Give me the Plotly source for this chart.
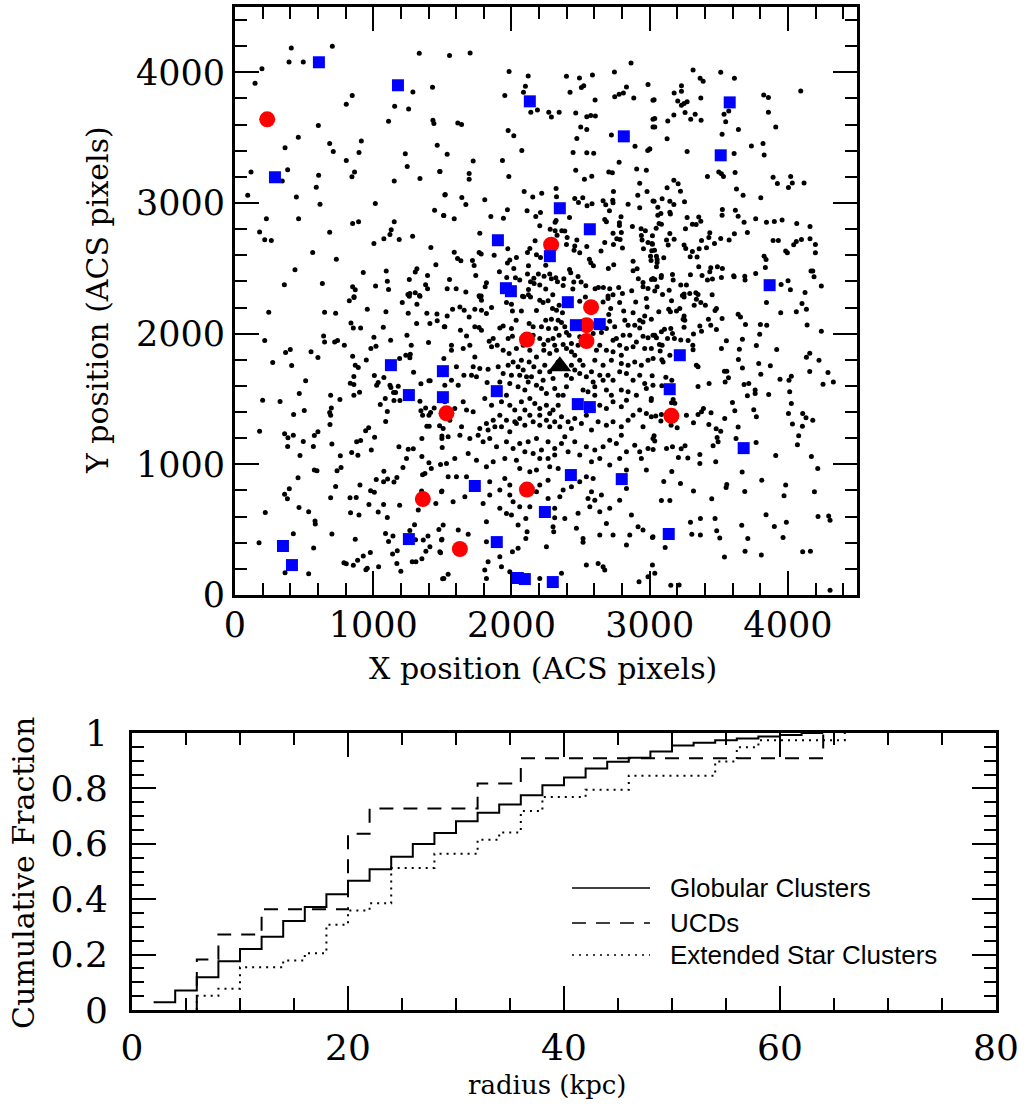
import plotly.graph_objects as go

# ---------------- top panel data (ACS pixel positions) ----------------
# Globular clusters (small black dots), read region by region from the picture
gc_nw = [407,4186, 704,4199, 391,4079, 494,4079, 195,4028, 1333,4146, 145,3916, 848,3822, 805,3756,
         1155,3740, 1256,3720, 1287,3850, 1429,3886, 1111,3626, 1432,3633, 1439,3608, 603,3593, 458,3503,
         362,3422, 685,3455, 711,3394, 914,3475, 897,3386, 1463,3442, 1232,3376, 805,3325, 1246,3279,
         116,3238, 381,3254, 342,3169, 605,3213, 865,3238, 846,3200, 1152,3169, 1338,3187, 1482,3241,
         92,3060, 444,3045, 588,3121, 615,2991, 1015,2996, 1518,3062, 1444,2945, 1509,2904, 227,2879,
         460,2879, 894,2856, 851,2843, 1152,2856, 1130,2795, 1121,2759, 1077,2726, 1188,2721, 1285,2746,
         178,2779, 215,2718, 263,2713, 685,2777, 1005,2690, 1417,2660, 562,2621, 733,2570, 1453,2527,
         434,2489, 928,2468, 1094,2479, 1102,2402, 1111,2338, 357,2374, 632,2384, 851,2359, 870,2336,
         861,2282, 1017,2364, 1261,2415, 1304,2471, 1316,2496, 1393,2445, 1379,2374, 1393,2344, 1251,2300,
         1304,2313, 1335,2293, 1265,2308]
gc_n = [1552,4128, 1701,4148, 1983,4006, 2121,3972, 2101,3893, 2087,3847, 1952,3822, 2865,4072, 2398,3970,
        2492,3957, 2586,3980, 2745,4003, 2523,3898, 2506,3883, 2424,3847, 2605,3789, 2747,3814, 2779,3832,
        2810,3842, 2832,3888, 2885,3804, 2988,3906, 3024,3786, 2188,3712, 2140,3695, 2270,3695, 2289,3659,
        2345,3695, 2465,3689, 2545,3661, 2574,3669, 2607,3666, 1612,3613, 1639,3600, 1976,3554, 2017,3514,
        2501,3582, 2545,3562, 2473,3493, 2723,3521, 2894,3435, 2986,3401, 3000,3414, 3024,3641, 3024,3582,
        1535,3373, 1723,3322, 1935,3325, 2075,3401, 2446,3386, 2545,3384, 2595,3381, 2779,3312, 1482,3241,
        1694,3226, 1694,3182, 1981,3203, 2465,3251, 2528,3182, 2581,3205, 2704,3238, 2730,3231, 2906,3261,
        2976,3251, 2928,3152, 2981,3088, 3024,3016, 1521,3065, 1641,3042, 1670,2989, 1807,3024, 2092,3088,
        2154,3045, 2219,3075, 2323,3111, 2326,3047, 2458,3034, 2485,3004, 2516,3040, 2547,2978, 2583,2994,
        2663,3017, 2682,2986, 2733,3022, 2738,3088, 2735,3001, 2709,2940, 2793,2894, 2844,2991, 2914,3060,
        2928,2963, 1511,2904, 1586,2879, 1851,2897, 1942,2884, 1971,2948, 2113,2940, 2176,2897, 2210,2927,
        2205,2825, 2323,2866, 2316,2853, 2420,2889, 2675,2874, 2687,2856, 2781,2848, 2781,2828, 2795,2774,
        2735,2769, 2762,2726, 2786,2721, 2875,2820, 2938,2802, 2969,2787, 2940,2751, 2945,2716, 2988,2698,
        3017,2690, 2955,2650, 3015,2634, 3010,2560, 1771,2769, 1974,2650, 2280,2800, 2316,2787, 2364,2787,
        2386,2785, 2403,2736, 2330,2754, 2398,2683, 2473,2716, 2545,2667, 2458,2670, 2453,2639, 2494,2619,
        2648,2632, 2675,2698, 2738,2683, 2803,2655, 2171,2711, 2133,2652, 2116,2621, 2181,2604, 2210,2583,
        2036,2583, 1988,2563, 1971,2540, 1875,2601, 1766,2621, 1781,2609, 1586,2624, 1610,2576, 1634,2558,
        1718,2560, 1730,2522, 1913,2474, 2017,2499, 2123,2519, 2248,2524, 2564,2570, 2574,2542, 2593,2519,
        2701,2499, 2740,2527, 2880,2555, 2880,2481, 2909,2497, 2918,2420, 2952,2392, 3024,2423, 1742,2446,
        1552,2415, 1535,2344, 1600,2344, 1670,2318, 1766,2290, 1810,2359, 1819,2390, 1966,2430, 2029,2428,
        2060,2410, 2116,2456, 2138,2397, 2162,2425, 2195,2456, 2236,2440, 2277,2456, 2289,2420, 2321,2428,
        2333,2397, 2379,2420, 2420,2492, 2429,2466, 2482,2438, 2451,2395, 2504,2395, 2123,2338, 2164,2384,
        2205,2372, 2248,2341, 2299,2298, 2374,2369, 2444,2341, 2538,2367, 2605,2344, 2629,2354, 2665,2354,
        2711,2344, 2699,2288, 2735,2298, 2776,2354, 2803,2308, 2870,2328, 2952,2359, 2988,2346, 2123,2298,
        2089,2282, 1781,2288]
gc_ne = [3314,4018, 3514,4000, 3613,3955, 3365,3955, 3387,3932, 3230,3898, 3230,3855, 3177,3842, 3032,3791,
         3370,3804, 3203,3781, 3271,3774, 3249,3761, 3230,3748, 3175,3674, 3256,3692, 3329,3679, 3037,3646,
         3297,3641, 3372,3633, 3131,3628, 3037,3582, 3572,3705, 3538,3679, 3550,3621, 3825,3827, 3859,3807,
         3859,3695, 4093,3858, 3912,3582, 3642,3562, 3524,3526, 3126,3491, 3001,3414, 3271,3394, 3611,3379,
         3736,3437, 3820,3455, 3828,3368, 3418,3203, 3500,3238, 3519,3223, 3534,3203, 3618,3233, 3893,3197,
         3924,3149, 4020,3203, 4032,3154, 4004,3118, 4117,3154, 3175,3175, 3206,3147, 3223,3090, 3126,3116,
         3628,3108, 3676,3060, 3804,3040, 3090,3032, 3032,3014, 3146,3014, 3252,3009, 3059,2968, 3175,2989,
         3146,2930, 3150,2915, 3081,2920, 3059,2907, 3068,2843, 3085,2838, 3047,2807, 3259,2802, 3271,2889,
         3355,2892, 3370,2861, 3309,2838, 3336,2836, 3526,2950, 3524,2907, 3620,2945, 3640,2899, 3683,2853,
         3767,2879, 3845,2853, 3902,2858, 3958,2869, 4064,2843, 4160,2820, 3707,2774, 3613,2764, 3514,2728,
         3575,2716, 3435,2772, 3428,2736, 3375,2713, 3469,2690, 3411,2657, 3358,2650, 3309,2629, 3343,2586,
         3293,2588, 3146,2767, 3122,2716, 3177,2723, 3134,2678, 3020,2749, 3020,2685, 3249,2678, 3261,2652,
         3035,2639, 3049,2593, 3006,2593, 3054,2568, 3054,2545, 3049,2512, 3102,2581, 3893,2713, 3931,2713,
         4042,2680, 4061,2706, 4098,2721, 4160,2726, 4199,2683, 4199,2619, 3984,2632, 3996,2619, 3828,2593,
         3842,2568, 3837,2507, 3767,2461, 3355,2512, 3442,2504, 3490,2512, 3526,2499, 3435,2474, 3295,2451,
         3379,2446, 3454,2418, 3519,2430, 3608,2443, 3611,2435, 3688,2440, 3690,2410, 3418,2410, 3165,2453,
         3170,2410, 3085,2446, 3083,2430, 3013,2415, 3037,2415, 3225,2372, 3266,2372, 3249,2303, 3290,2308,
         3334,2313, 3350,2300, 3452,2298, 3054,2359, 3037,2326, 3093,2300, 3141,2333, 3237,2293, 3951,2377,
         4001,2405, 4018,2336, 4124,2316, 4167,2479, 4180,2479, 4189,2435, 4242,2364]
gc_sw = [827,2251, 861,2276, 244,2164, 648,2164, 728,2156, 957,2187, 1092,2167, 1210,2238, 1261,2286,
         1316,2225, 1338,2286, 1253,2156, 1314,2077, 1388,2156, 1461,2151, 1463,2098, 1410,2077, 1514,2052,
         839,2082, 856,2044, 909,2044, 1073,2049, 215,1947, 641,1983, 648,1937, 721,1937, 742,1947,
         791,1912, 1005,1973, 1020,1904, 983,1886, 1126,1950, 1244,1988, 1275,1912, 1400,1932, 366,1856,
         400,1879, 550,1861, 600,1817, 273,1779, 410,1756, 511,1639, 851,1828, 870,1759, 892,1741,
         950,1799, 1008,1680, 1036,1626, 1077,1664, 1025,1606, 860,1672, 834,1621, 860,1611, 901,1552,
         860,1529, 759,1496, 692,1529, 697,1432, 685,1397, 692,1376, 687,1305, 200,1491, 326,1481,
         465,1542, 501,1412, 424,1381, 178,1254, 359,1234, 383,1203, 422,1223, 381,1137, 494,1175,
         470,1068, 567,1137, 574,1221, 600,1249, 701,1155, 762,1065, 767,975, 738,951, 574,956, 593,951,
         456,897, 728,831, 393,813, 359,772, 379,737, 692,744, 463,670, 533,637, 219,632, 579,566,
         581,543, 422,469, 701,466, 569,359, 174,400, 362,171, 533,163, 870,426, 788,247, 805,240,
         856,227, 887,265, 928,298, 979,326, 947,194, 957,204, 1039,217, 832,744, 877,747, 836,630,
         897,612, 904,841, 981,798, 1008,787, 969,693, 1036,635, 1075,693, 1102,594, 1077,948, 1075,867,
         1022,884, 1150,864, 1171,900, 1215,976, 1191,686, 1104,887, 1089,471, 1111,410, 1143,451,
         1174,339, 1140,313, 1171,242, 1200,181, 1282,255, 1309,255, 1352,278, 1381,334, 1410,370,
         1396,451, 1362,420, 1306,423, 1299,538, 1265,494, 1475,502, 1497,426, 1487,324, 1502,125,
         1350,795, 1326,650, 1453,701, 1497,795, 1374,930, 1357,920, 1420,969, 1403,1012, 1352,1060,
         1487,999, 1290,1119, 1253,1116, 1186,1134, 1241,1045, 1352,1198, 1388,1292, 1405,1292, 1480,1295,
         1497,1216, 1497,1198, 1499,1129, 1357,1376, 1345,1410, 1403,1376, 1415,1397, 1379,1432, 1441,1432,
         1338,1483, 1193,1489, 1150,1489, 1162,1550, 1087,1504, 1051,1458, 1102,1404, 1090,1328, 1181,1598,
         1121,1606, 1128,1588, 1147,1550, 1345,1616, 1403,1639, 1412,1639, 1292,1705, 1265,1815, 1236,1835,
         1268,1843, 1191,1810, 945,1257, 967,1280, 1010,1208, 880,1172, 909,1183, 844,1091, 889,1070,
         986,1109]
gc_core = [1771,2281, 1783,2256, 1964,2238, 2000,2225, 2080,2286, 2138,2281, 2205,2256, 2229,2238, 2265,2251,
           2297,2192, 2326,2179, 2345,2218, 2369,2161, 2181,2177, 2072,2174, 2007,2174, 1856,2200, 1819,2154,
           1783,2179, 1735,2187, 1694,2128, 1627,2205, 1658,2179, 1574,2187, 1535,2136, 2699,2269, 2718,2192,
           2704,2146, 2783,2238, 2812,2174, 2880,2161, 2899,2243, 2976,2269, 2981,2205, 2964,2136, 2928,2103,
           3012,2110, 2494,2248, 2535,2281, 2663,2243, 1518,2052, 1631,2026, 1675,1983, 1735,2052, 1766,2047,
           1783,2026, 1839,1942, 1868,1963, 1897,1912, 1916,2044, 1940,2059, 1976,1963, 2007,1980, 2000,2039,
           2034,2103, 2128,2077, 2157,2052, 2157,1988, 2205,1963, 2217,2052, 2248,2103, 2268,2039, 2289,2110,
           2321,2039, 2338,2103, 2362,2085, 2386,2052, 2398,2009, 2417,1988, 2345,1988, 2301,1963, 2265,1950,
           2234,1917, 2313,1912, 2374,1917, 2434,1924, 2234,1873, 2277,1848, 2326,1873, 2398,1886, 2434,1861,
           2458,1835, 2482,1912, 2530,1912, 2494,1976, 2591,2001, 2651,2009, 2687,2039, 2711,2095, 2747,2052,
           2759,1963, 2820,2103, 2844,2065, 2892,2065, 2928,2044, 2952,2090, 2952,1980, 2988,1968, 3024,1988,
           2856,1988, 2808,1988, 2735,1950, 2783,1912, 2832,1886, 2880,1899, 2904,1937, 2964,1886, 3012,1886,
           2639,1912, 2615,1873, 2687,1873, 2735,1861, 2795,1835, 2036,1886, 2085,1912, 2133,1873, 1566,1912,
           1566,1873, 1651,1886, 1699,1912, 1856,1899, 1735,1822, 1511,1810, 1940,1873, 1983,1848, 2012,1784,
           2072,1797, 2048,1746, 2085,1721, 2128,1784, 2162,1746, 2181,1822, 2205,1708, 2241,1759, 2277,1708,
           2301,1657, 2229,1644, 2145,1670, 2109,1670, 2060,1682, 2000,1682, 1976,1759, 1940,1695, 1904,1746,
           1831,1728, 1771,1733, 1723,1746, 1711,1682, 1747,1670, 1656,1682, 1615,1606, 1566,1644, 1518,1606,
           1602,1746, 1824,1626, 1916,1631, 1988,1619, 2048,1593, 2097,1568, 2121,1631, 2181,1606, 2217,1580,
           2253,1542, 2313,1580, 2338,1529, 2374,1529, 2398,1593, 2434,1657, 2398,1682, 2458,1721, 2494,1695,
           2518,1759, 2542,1670, 2579,1708, 2591,1631, 2639,1682, 2663,1644, 2699,1682, 2735,1644, 2783,1708,
           2832,1695, 2880,1644, 2928,1682, 2964,1619, 3024,1606, 2988,1797, 2940,1759, 2892,1784, 2844,1759,
           2795,1771, 2723,1797, 2663,1759, 2603,1797, 2494,1797, 2338,1784, 2434,1759, 2603,1593, 2554,1555,
           2603,1529, 2518,1568, 2687,1568, 2723,1529, 2795,1568, 2844,1555, 2904,1529, 2976,1580, 3012,1504,
           1518,1478, 1590,1427, 1651,1478, 1675,1415, 1723,1402, 1639,1287, 1807,1504, 1856,1453, 1928,1478,
           1964,1529, 1988,1453, 2024,1415, 2072,1478, 2133,1504, 2169,1466, 2205,1427, 2253,1453, 2301,1415,
           2338,1453, 2277,1389, 2205,1376, 2133,1376, 2097,1415, 2060,1351, 2024,1325, 1964,1338, 1916,1376,
           1868,1338, 1819,1313, 1771,1274, 1831,1262, 1880,1287, 1928,1287, 1988,1249, 2036,1313, 2097,1300,
           2157,1325, 2205,1300, 2253,1338, 2313,1325, 2362,1364, 2410,1325, 2458,1351, 2506,1313, 2542,1376,
           2591,1415, 2639,1453, 2687,1427, 2735,1478, 2795,1440, 2832,1491, 2880,1376, 2928,1415, 2976,1389,
           3012,1364, 2627,1325, 2687,1300, 2735,1325, 2795,1287, 2844,1338, 2952,1287, 2579,1262, 2434,1274,
           2350,1287, 2277,1287, 1554,1338, 1506,1274, 1542,1211, 1627,1223, 1699,1198, 1759,1223, 1795,1172,
           1843,1198, 1892,1134, 1964,1172, 2012,1122, 2060,1160, 2121,1172, 2181,1198, 2217,1109, 2265,1172,
           2313,1122, 2362,1160, 2386,1211, 2410,1096, 2458,1172, 2494,1071, 2542,1134, 2603,1109, 2663,1134,
           2711,1185, 2759,1160, 2795,1223, 2832,1096, 2892,1147, 2928,1096, 2988,1122, 3024,1198, 2639,1045,
           2579,1020, 2711,994, 2783,1045, 2832,956, 2940,1045, 2976,956, 2313,1071, 2265,1045, 2205,1045,
           2157,1083, 2097,1096, 2036,1032, 1952,1045, 1868,1020, 1819,981, 1747,1032, 1687,1083, 1590,1045,
           1530,1007, 2060,969, 2133,943, 2181,956, 2277,981, 2338,969, 1542,905, 1602,905, 1675,905,
           1494,790, 1578,714, 1663,752, 1795,701, 1843,765, 1843,867, 1916,803, 1952,892, 1988,841,
           1988,765, 2012,714, 2060,676, 1916,663, 1964,624, 2000,612, 2133,676, 2181,790, 2205,841,
           2265,879, 2265,739, 2350,752, 2313,663, 2313,591, 2386,586, 2374,803, 2434,828, 2494,867,
           2542,905, 2591,892, 2579,790, 2554,739, 2603,726, 2651,765, 2567,676, 2639,637, 2711,663,
           2783,726, 2832,816, 2868,612, 2482,625, 2470,510, 2687,548, 2518,433, 2518,403, 2639,459,
           2735,459, 2856,459, 2916,522, 2952,497, 3024,446, 2832,382, 2627,242, 2663,217, 2675,191,
           2542,229, 2923,102, 2988,140, 1506,535, 1615,497, 1687,464, 1494,420, 1482,331, 1511,127,
           1542,158, 1819,561, 1819,408, 1916,293, 1831,255, 1819,127, 1807,191, 1928,217, 1988,178,
           2007,331, 2048,357, 2048,535, 2104,433, 2113,484, 2104,586, 2253,370, 2301,523, 2306,484,
           2205,127, 2362,166]
gc_se = [3158,2251, 3249,2281, 3338,2263, 3370,2238, 3403,2218, 3322,2218, 3218,2192, 3194,2174, 3138,2187,
         3066,2167, 3150,2167, 3249,2136, 3242,2110, 3254,2103, 3249,2049, 3425,2110, 3483,2192, 3473,2177,
         3524,2116, 3442,2065, 3483,2031, 3363,2059, 3375,2019, 3317,1998, 3278,1947, 3312,1912, 3314,1876,
         3225,1952, 3179,1963, 3129,1963, 3165,2001, 3153,2039, 3107,2034, 3085,2014, 3037,1988, 3049,1968,
         3071,1917, 3090,1912, 3076,1868, 3146,1835, 3088,1800, 3097,1784, 3025,1810, 3640,2149, 3657,2128,
         3693,2070, 3845,2238, 3948,2161, 4061,2167, 4102,2230, 4134,2187, 3801,2070, 3847,2065, 3796,1996,
         3671,1958, 3555,1945, 3519,1886, 3649,1881, 3772,1909, 3919,1878, 4139,2067, 4242,2019, 4134,1820,
         4158,1850, 4225,1797, 3642,1802, 3671,1738, 3789,1771, 3804,1690, 3873,1754, 4158,1710, 4290,1703,
         4254,1613, 4329,1631, 4025,1675, 4008,1644, 3943,1652, 3338,1759, 3350,1746, 3541,1713, 3558,1713,
         3570,1662, 3546,1631, 3430,1619, 3350,1596, 3683,1611, 3717,1619, 3707,1524, 3763,1568, 3763,1542,
         3861,1534, 4013,1555, 4025,1466, 3599,1473, 3616,1410, 3753,1417, 3772,1364, 3389,1427, 3375,1402,
         3350,1381, 3444,1394, 3317,1318, 3266,1376, 3428,1305, 3481,1272, 3514,1254, 3543,1351, 3640,1285,
         3488,1206, 3495,1172, 3459,1142, 3625,1198, 3770,1167, 4004,1389, 4033,1308, 4107,1389, 4131,1356,
         4180,1338, 4105,1292, 4078,1218, 4069,1150, 3085,1381, 3044,1369, 3081,1331, 3199,1280, 3155,1300,
         3158,1471, 3182,1468, 3170,1496, 3011,1489, 3117,1667, 3160,1644, 3088,1601, 3018,1677, 3032,1218,
         3037,1178, 3025,1114, 3122,1122, 3165,1134, 3228,1119, 3256,1142, 3208,1053, 3276,1048, 3363,1076,
         3363,1007, 3478,1020, 3160,946, 3102,869, 3223,854, 3317,795, 3449,737, 3558,846, 3553,823,
         3688,793, 3669,941, 3811,879, 3912,1068, 4170,1060, 4216,969, 3984,841, 3972,760, 4192,790,
         3085,724, 3146,724, 3295,556, 3367,586, 3305,464, 3367,459, 3473,586, 3485,492, 3507,436,
         3666,533, 3710,433, 3842,614, 3902,525, 3989,556, 3965,441, 4218,601, 4295,604, 4305,573,
         4107,331, 4163,334, 3690,334, 3808,306, 3541,290, 3112,364, 3020,441, 3020,229, 3037,166,
         3153,74, 3213,76, 4305,36]

# Extended star clusters (blue squares)
esc_x = [607, 1179, 2133, 2813, 3579, 3514, 289, 2350, 2567, 1902, 2278, 1960, 1996, 2408, 3868, 2466, 2639,
         3218, 1128, 1504, 1258, 1504, 1894, 3145, 2480, 2567, 3680, 1735, 2430, 2798, 2242, 3138, 347, 412,
         1258, 1894, 2046, 2097, 2299]
esc_y = [4077, 3901, 3778, 3510, 3770, 3365, 3197, 2960, 2799, 2715, 2593, 2348, 2325, 2241, 2371, 2065, 2073,
         1835, 1759, 1713, 1530, 1514, 1560, 1575, 1461, 1438, 1124, 834, 918, 887, 635, 467, 375, 229,
         428, 405, 130, 122, 99]

# UCDs (red circles)
ucd_x = [233, 2287, 2576, 2543, 2543, 2112, 1530, 2112, 1627, 1359, 3157]
ucd_y = [3640, 2681, 2203, 2065, 1943, 1955, 1390, 807, 352, 734, 1371]

# galaxy centre (black triangle)
centre_x = [2350]
centre_y = [1751]

# ---------------- bottom panel data ----------------
gc_r = [2, 4, 6, 8, 10, 12, 14, 16, 18, 20, 22, 24, 26, 28, 30, 32, 34, 36, 38, 40, 42, 44, 46, 48, 50,
        52, 54, 56, 58, 60, 62, 64]
gc_frac = [0.028, 0.070, 0.118, 0.176, 0.220, 0.264, 0.321, 0.372, 0.418, 0.467, 0.508, 0.553, 0.599,
           0.639, 0.681, 0.712, 0.742, 0.775, 0.811, 0.839, 0.872, 0.896, 0.911, 0.933, 0.955, 0.965,
           0.974, 0.980, 0.987, 0.993, 1.0, 1.0]
ucd_r = [6, 6, 8, 12, 20, 22, 32, 36, 64]
ucd_frac = [0.0, 0.182, 0.273, 0.364, 0.636, 0.727, 0.818, 0.909, 1.0]
esc_r = [6, 6, 8, 10, 14, 16, 18, 20, 22, 24, 28, 32, 34, 36, 38, 42, 46, 54, 56, 58, 66]
esc_frac = [0.0, 0.051, 0.077, 0.154, 0.179, 0.205, 0.308, 0.359, 0.385, 0.513, 0.564, 0.615, 0.641,
            0.718, 0.769, 0.795, 0.846, 0.897, 0.949, 0.974, 1.0]

legend_labels = ["Globular Clusters", "UCDs", "Extended Star Clusters"]

# ---------------- figure ----------------
W, H = 1027, 1110
SERIF = "DejaVu Serif"
SANS = "Liberation Sans"

gx, gy = [], []
for arr in (gc_nw, gc_n, gc_ne, gc_sw, gc_core, gc_se):
    gx += arr[0::2]
    gy += arr[1::2]

fig = go.Figure()
fig.add_trace(go.Scatter(x=gx, y=gy, mode="markers", xaxis="x", yaxis="y",
                         marker=dict(color="black", size=5, line=dict(width=0)),
                         name="Globular Clusters", showlegend=False))
fig.add_trace(go.Scatter(x=ucd_x, y=ucd_y, mode="markers", xaxis="x", yaxis="y",
                         marker=dict(color="#ff0000", size=16, symbol="circle", line=dict(width=0)),
                         name="UCDs", showlegend=False))
fig.add_trace(go.Scatter(x=esc_x, y=esc_y, mode="markers", xaxis="x", yaxis="y",
                         marker=dict(color="#0000ff", size=12, symbol="square", line=dict(width=0)),
                         name="Extended Star Clusters", showlegend=False))
fig.add_trace(go.Scatter(x=centre_x, y=centre_y, mode="markers", xaxis="x", yaxis="y",
                         marker=dict(color="black", size=20, symbol="triangle-up", line=dict(width=0)),
                         name="centre", showlegend=False))

fig.add_trace(go.Scatter(x=gc_r, y=gc_frac, mode="lines", line_shape="hv", xaxis="x2", yaxis="y2",
                         line=dict(color="black", width=2), name=legend_labels[0], showlegend=False))
fig.add_trace(go.Scatter(x=ucd_r, y=ucd_frac, mode="lines", line_shape="hv", xaxis="x2", yaxis="y2",
                         line=dict(color="black", width=2, dash="14px,10px"), name=legend_labels[1],
                         showlegend=False))
fig.add_trace(go.Scatter(x=esc_r, y=esc_frac, mode="lines", line_shape="hv", xaxis="x2", yaxis="y2",
                         line=dict(color="black", width=2, dash="2px,5px"), name=legend_labels[2],
                         showlegend=False))

def ax(domain, rng, tickvals, ticktext, minor_dtick, anchor, fsize, standoff):
    return dict(domain=domain, range=rng, anchor=anchor, showgrid=False, zeroline=False,
                automargin=False,
                showline=True, linewidth=3, linecolor="black", mirror="allticks",
                ticks="inside", ticklen=24, tickwidth=2, tickcolor="black",
                tickvals=tickvals, ticktext=ticktext,
                tickfont=dict(family=SERIF, size=fsize, color="black"),
                ticklabelstandoff=standoff,
                minor=dict(dtick=minor_dtick, ticks="inside", ticklen=12, tickwidth=2,
                           tickcolor="black", showgrid=False))

tv = [0, 1000, 2000, 3000, 4000]
fig.update_layout(
    width=W, height=H, margin=dict(l=0, r=0, t=0, b=0, pad=0), autosize=False,
    paper_bgcolor="white", plot_bgcolor="white", showlegend=False,
    xaxis=ax([235 / W, 857 / W], [0, 4500], tv, [str(v) for v in tv], 200, "y", 35, -3),
    yaxis=ax([1 - 595 / H, 1 - 7 / H], [0, 4500], tv, [str(v) for v in tv], 200, "x", 35, 0),
    xaxis2=ax([132 / W, 996 / W], [0, 80], [0, 20, 40, 60, 80], ["0", "20", "40", "60", "80"], 5,
              "y2", 36, 4),
    yaxis2=ax([1 - 1010 / H, 1 - 733 / H], [0, 1], [0, 0.2, 0.4, 0.6, 0.8, 1],
              ["0", "0.2", "0.4", "0.6", "0.8", "1"], 0.05, "x2", 36, 14),
)

# axis titles
tfont = dict(family=SERIF, size=30, color="black")
fig.add_annotation(text="X position (ACS pixels)", x=543 / W, y=1 - 668 / H, xref="paper", yref="paper",
                   showarrow=False, font=tfont, xanchor="center", yanchor="middle")
fig.add_annotation(text="Y position (ACS pixels)", x=97 / W, y=1 - 300 / H, xref="paper", yref="paper",
                   showarrow=False, font=tfont, textangle=-90, xanchor="center", yanchor="middle")
fig.add_annotation(text="radius (kpc)", x=547 / W, y=1 - 1085 / H, xref="paper", yref="paper",
                   showarrow=False, font=dict(family=SERIF, size=26, color="black"),
                   xanchor="center", yanchor="middle")
fig.add_annotation(text="Cumulative Fraction", x=23 / W, y=1 - 873 / H, xref="paper", yref="paper",
                   showarrow=False, font=dict(family=SERIF, size=30, color="black"), textangle=-90,
                   xanchor="center", yanchor="middle")

# legend of bottom panel
leg_y = [888, 923, 955]
leg_dash = ["solid", "14px,10px", "2px,5px"]
for lab, yy, dsh in zip(legend_labels, leg_y, leg_dash):
    fig.add_shape(type="line", xref="paper", yref="paper", x0=572 / W, x1=650 / W,
                  y0=1 - yy / H, y1=1 - yy / H, line=dict(color="black", width=1.5, dash=dsh))
    fig.add_annotation(text=lab, x=668 / W, y=1 - yy / H, xref="paper", yref="paper", showarrow=False,
                       font=dict(family=SANS, size=26, color="black"), xanchor="left", yanchor="middle")

fig.write_html("out.html",
               post_script="document.body.style.margin='0';"
                           "document.documentElement.style.overflow='hidden';"
                           "document.body.style.overflow='hidden';")
